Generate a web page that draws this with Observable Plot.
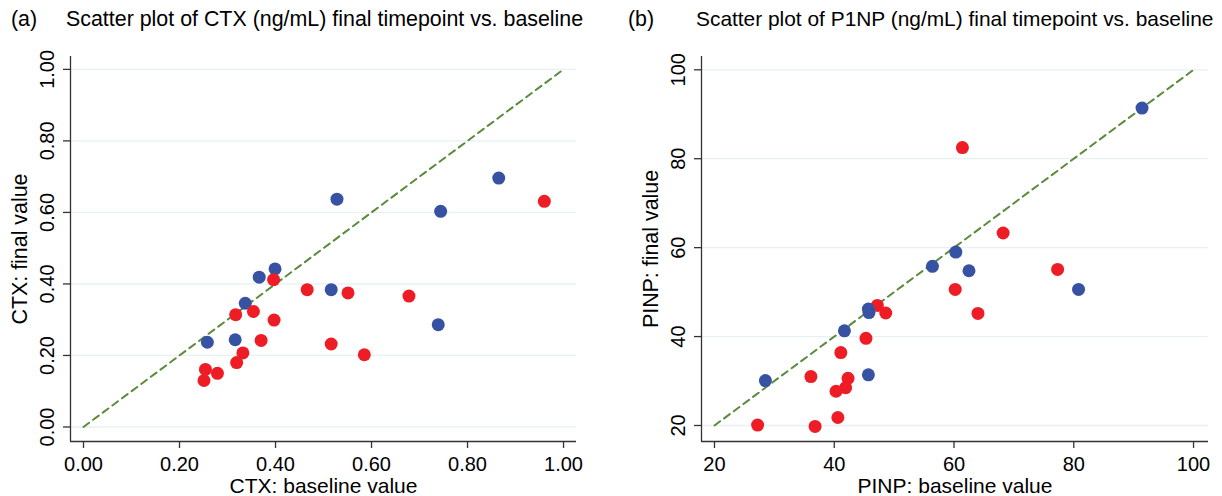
<!DOCTYPE html>
<html>
<head>
<meta charset="utf-8">
<script src="https://cdn.jsdelivr.net/npm/d3@7"></script>
<script src="https://cdn.jsdelivr.net/npm/@observablehq/plot@0.6"></script>
<style>
  html, body { margin: 0; padding: 0; background: #fff; }
  #wrap { position: relative; width: 1222px; height: 496px; overflow: hidden; font-family: "Liberation Sans", Arial, sans-serif; background: #fff; }
  .panel { position: absolute; top: 0; z-index: 1; }
  .tag, .title { position: absolute; z-index: 2; font-size: 21.4px; color: #000; white-space: nowrap; line-height: 1; }
</style>
</head>
<body>
<div id="wrap">
  <div class="panel" id="pa" style="left:0px;"></div>
  <div class="panel" id="pb" style="left:611px;"></div>
  <div class="tag" style="left:11px; top:9px;">(a)</div>
  <div class="title" style="left:66px; top:9px;">Scatter plot of CTX (ng/mL) final timepoint vs. baseline</div>
  <div class="tag" style="left:628px; top:9px;">(b)</div>
  <div class="title" style="left:696px; top:9px; font-size:20.9px;">Scatter plot of P1NP (ng/mL) final timepoint vs. baseline</div>
</div>
<script>
// ---- Panel (a) CTX data ----
const ctxBlueBase  = [0.528, 0.865, 0.744, 0.739, 0.399, 0.366, 0.516, 0.337, 0.316, 0.258];
const ctxBlueFinal = [0.637, 0.696, 0.603, 0.286, 0.442, 0.419, 0.384, 0.346, 0.244, 0.237];
const ctxRedBase   = [0.960, 0.396, 0.466, 0.551, 0.678, 0.354, 0.317, 0.397, 0.370, 0.516, 0.585, 0.332, 0.319, 0.254, 0.279, 0.251];
const ctxRedFinal  = [0.631, 0.412, 0.384, 0.375, 0.366, 0.323, 0.314, 0.299, 0.242, 0.232, 0.202, 0.207, 0.180, 0.161, 0.150, 0.130];
const ctxTicks = [0, 0.2, 0.4, 0.6, 0.8, 1.0];
const ctxDiag = [0, 1];

// ---- Panel (b) P1NP data ----
const pBlueBase  = [91.4, 60.3, 56.4, 62.5, 80.8, 45.7, 45.8, 41.7, 45.7, 28.5];
const pBlueFinal = [91.4, 59.0, 55.8, 54.8, 50.6, 46.2, 45.4, 41.3, 31.4, 30.1];
const pRedBase   = [61.4, 68.2, 77.3, 60.2, 64.0, 47.2, 48.6, 45.3, 41.1, 36.1, 42.3, 41.9, 40.3, 40.6, 27.2, 36.8];
const pRedFinal  = [82.5, 63.3, 55.1, 50.6, 45.2, 47.0, 45.3, 39.6, 36.4, 31.0, 30.6, 28.5, 27.7, 21.8, 20.1, 19.8];
const pTicks = [20, 40, 60, 80, 100];
const pDiag = [20, 100];

const labels = {
  a: {x: "CTX: baseline value", y: "CTX: final value"},
  b: {x: "PINP: baseline value", y: "PINP: final value"}
};

const BLUE = "#3752a3";
const RED = "#ee1d25";
const GREEN = "#5a8a3c";
const GRID = "#e7f0f3";
const AXIS = "#333333";
const FONT = "Liberation Sans, Arial, sans-serif";

function zip(xs, ys) { return xs.map((x, i) => ({x, y: ys[i]})); }

function panel({width, marginLeft, marginRight, xDomain, yDomain, ticks, fmt, diag, blue, red, redFirst, lab}) {
  const dots = [
    Plot.dot(blue, {x: "x", y: "y", r: 6.5, fill: BLUE, stroke: "none"}),
    Plot.dot(red, {x: "x", y: "y", r: 6.5, fill: RED, stroke: "none"})
  ];
  if (redFirst) dots.reverse();
  return Plot.plot({
    width, height: 496,
    marginLeft, marginRight, marginTop: 56, marginBottom: 55,
    style: {fontFamily: FONT, background: "transparent", overflow: "visible"},
    x: {domain: xDomain, axis: null},
    y: {domain: yDomain, axis: null},
    marks: [
      Plot.ruleY(ticks, {y: d => d, stroke: GRID, strokeWidth: 1.3}),
      Plot.line(diag, {x: d => d, y: d => d, stroke: GREEN, strokeWidth: 2, strokeDasharray: "7,5"}),
      ...dots,
      Plot.ruleX([xDomain[0]], {stroke: AXIS, strokeWidth: 1.3}),
      Plot.ruleY([yDomain[0]], {stroke: AXIS, strokeWidth: 1.3}),
      Plot.axisX({ticks, tickSize: 7, tickFormat: () => "", stroke: AXIS, strokeWidth: 1.3, label: null}),
      Plot.axisY({ticks, tickSize: 7, tickFormat: () => "", stroke: AXIS, strokeWidth: 1.3, label: null}),
      Plot.text(ticks, {x: d => d, y: yDomain[0], text: fmt, dy: 23, fontSize: 20, fill: "#000", lineAnchor: "middle"}),
      Plot.text(ticks, {x: xDomain[0], y: d => d, text: fmt, dx: -23, rotate: -90, fontSize: 20, fill: "#000", lineAnchor: "middle", textAnchor: "middle"}),
      Plot.text([lab.x], {frameAnchor: "bottom", dy: 45, fontSize: 21, fill: "#000", lineAnchor: "middle"}),
      Plot.text([lab.y], {frameAnchor: "left", dx: -50, rotate: -90, fontSize: 21.4, fill: "#000", lineAnchor: "middle", textAnchor: "middle"})
    ]
  });
}

document.getElementById("pa").appendChild(panel({
  width: 611, marginLeft: 70, marginRight: 35,
  xDomain: [-0.0271, 1.027], yDomain: [-0.0406, 1.036],
  ticks: ctxTicks, fmt: d3.format(".2f"), diag: ctxDiag,
  blue: zip(ctxBlueBase, ctxBlueFinal), red: zip(ctxRedBase, ctxRedFinal),
  redFirst: false, lab: labels.a
}));

document.getElementById("pb").appendChild(panel({
  width: 611, marginLeft: 90, marginRight: 14,
  xDomain: [17.83, 102.5], yDomain: [16.4, 102.99],
  ticks: pTicks, fmt: d3.format("d"), diag: pDiag,
  blue: zip(pBlueBase, pBlueFinal), red: zip(pRedBase, pRedFinal),
  redFirst: true, lab: labels.b
}));
</script>
</body>
</html>
